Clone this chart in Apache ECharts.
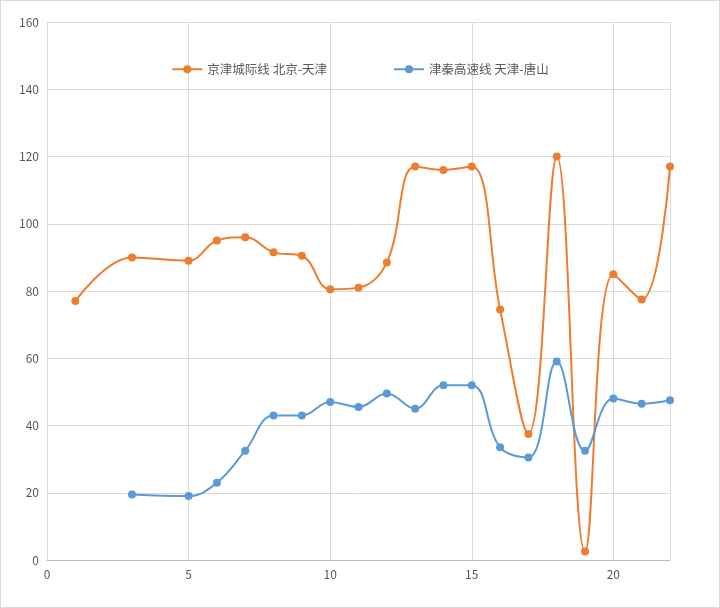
<!DOCTYPE html>
<html><head><meta charset="utf-8">
<script src="https://cdn.jsdelivr.net/npm/echarts@6/dist/echarts.min.js"></script>
<style>html,body{margin:0;padding:0;background:#fff}#c{width:720px;height:608px;box-sizing:border-box;border:1px solid #d9d9d9}</style>
</head><body><div id="c"></div>
<script>
// 数据
const xA = [1, 3, 5, 6, 7, 8, 9, 10, 11, 12, 13, 14, 15, 16, 17, 18, 19, 20, 21, 22];
const yA = [77, 90, 89, 95, 96, 91.5, 90.5, 80.5, 81, 88.5, 117, 116, 117, 74.5, 37.5, 120, 2.5, 85, 77.5, 117];
const xB = [3, 5, 6, 7, 8, 9, 10, 11, 12, 13, 14, 15, 16, 17, 18, 19, 20, 21, 22];
const yB = [19.5, 19, 23, 32.5, 43, 43, 47, 45.5, 49.5, 45, 52, 52, 33.5, 30.5, 59, 32.5, 48, 46.5, 47.5];
const nameA = '京津城际线 北京-天津';
const nameB = '津秦高速线 天津-唐山';

const chart = echarts.init(document.getElementById('c'));
const font = '"Noto Sans CJK SC", sans-serif';
chart.setOption({
  animation: false,
  textStyle: { fontFamily: font },
  grid: { left: 46, right: 49, top: 21, bottom: 47 },
  legend: {
    top: 57, left: 'center', itemGap: 66, itemWidth: 30, itemHeight: 10,
    textStyle: { color: '#595959', fontSize: 12.5, fontFamily: font },
    data: [nameA, nameB]
  },
  xAxis: {
    type: 'value', min: 0, max: 22, interval: 5,
    axisLine: { lineStyle: { color: '#bfbfbf' } },
    axisTick: { show: false },
    axisLabel: { color: '#595959', fontSize: 12, showMaxLabel: false },
    splitLine: { lineStyle: { color: '#d9d9d9' } }
  },
  yAxis: {
    type: 'value', min: 0, max: 160, interval: 20,
    axisLine: { show: false }, axisTick: { show: false },
    axisLabel: { color: '#595959', fontSize: 12 },
    splitLine: { lineStyle: { color: '#d9d9d9' } }
  },
  series: [
    {
      name: nameA, type: 'line', smooth: 0.4, symbol: 'circle', symbolSize: 8,
      data: xA.map((x, i) => [x, yA[i]]),
      itemStyle: { color: '#ed7d31' }, lineStyle: { width: 2, color: '#ed7d31' }
    },
    {
      name: nameB, type: 'line', smooth: 0.4, symbol: 'circle', symbolSize: 8,
      data: xB.map((x, i) => [x, yB[i]]),
      itemStyle: { color: '#5b9bd5' }, lineStyle: { width: 2, color: '#5b9bd5' }
    }
  ]
});
</script></body></html>
